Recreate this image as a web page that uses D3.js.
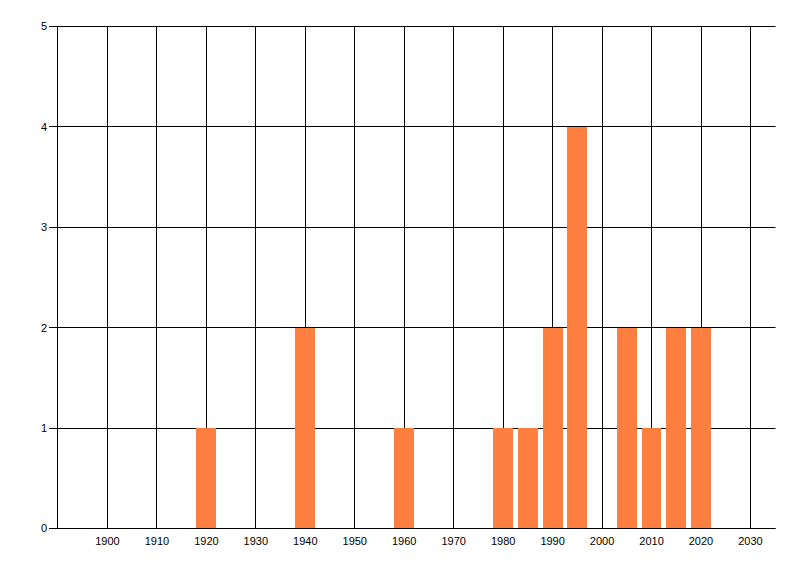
<!DOCTYPE html>
<html>
<head>
<meta charset="utf-8">
<script src="https://cdn.jsdelivr.net/npm/d3@7"></script>
<style>
  body { margin: 0; background: #fff; }
  text { font-family: "Liberation Sans", Arial, sans-serif; font-size: 11px; fill: #000; }
</style>
</head>
<body>
<svg id="chart" width="800" height="576"></svg>
<script>
// values
var years  = [1920, 1940, 1960, 1980, 1985, 1990, 1995, 2005, 2010, 2015, 2020];
var counts = [1, 2, 1, 1, 1, 2, 4, 2, 1, 2, 2];
var xTicks = [1900, 1910, 1920, 1930, 1940, 1950, 1960, 1970, 1980, 1990, 2000, 2010, 2020, 2030];
var yTicks = [0, 1, 2, 3, 4, 5];

var svg = d3.select("#chart");

var x = d3.scaleLinear().domain([1890, 2035]).range([58, 775.2]);
var y = d3.scaleLinear().domain([0, 5]).range([528.5, 26.5]);

function px(v) { return Math.round(v - 0.5) + 0.5; }

// vertical grid
svg.append("g")
  .selectAll("line")
  .data(xTicks)
  .enter().append("line")
  .attr("x1", function(d) { return px(x(d)); })
  .attr("x2", function(d) { return px(x(d)); })
  .attr("y1", y(5))
  .attr("y2", y(0))
  .attr("stroke", "black");

// horizontal grid
svg.append("g")
  .selectAll("line")
  .data(yTicks)
  .enter().append("line")
  .attr("x1", 49)
  .attr("x2", 775.5)
  .attr("y1", function(d) { return px(y(d)); })
  .attr("y2", function(d) { return px(y(d)); })
  .attr("stroke", "black");

// bars
svg.append("g")
  .selectAll("rect")
  .data(years)
  .enter().append("rect")
  .attr("x", function(d) { return Math.round(x(d - 2)); })
  .attr("width", function(d) { return Math.round(x(d + 2)) - Math.round(x(d - 2)); })
  .attr("y", function(d, i) { return Math.round(y(counts[i])); })
  .attr("height", function(d, i) { return Math.round(y(0)) - Math.round(y(counts[i])); })
  .attr("fill", "#ff7f40");

// y axis line
svg.append("line")
  .attr("x1", 57.5).attr("x2", 57.5)
  .attr("y1", y(5) - 0.5).attr("y2", y(0) + 0.5)
  .attr("stroke", "black");

// x axis line
svg.append("line")
  .attr("x1", 57).attr("x2", 775.5)
  .attr("y1", px(y(0))).attr("y2", px(y(0)))
  .attr("stroke", "black");

// y labels
svg.append("g")
  .selectAll("text")
  .data(yTicks)
  .enter().append("text")
  .attr("x", 47)
  .attr("y", function(d) { return y(d); })
  .attr("dy", "0.36em")
  .attr("text-anchor", "end")
  .text(function(d) { return d; });

// x labels
svg.append("g")
  .selectAll("text")
  .data(xTicks)
  .enter().append("text")
  .attr("x", function(d) { return x(d); })
  .attr("y", 545)
  .attr("text-anchor", "middle")
  .text(function(d) { return d; });
</script>
</body>
</html>
